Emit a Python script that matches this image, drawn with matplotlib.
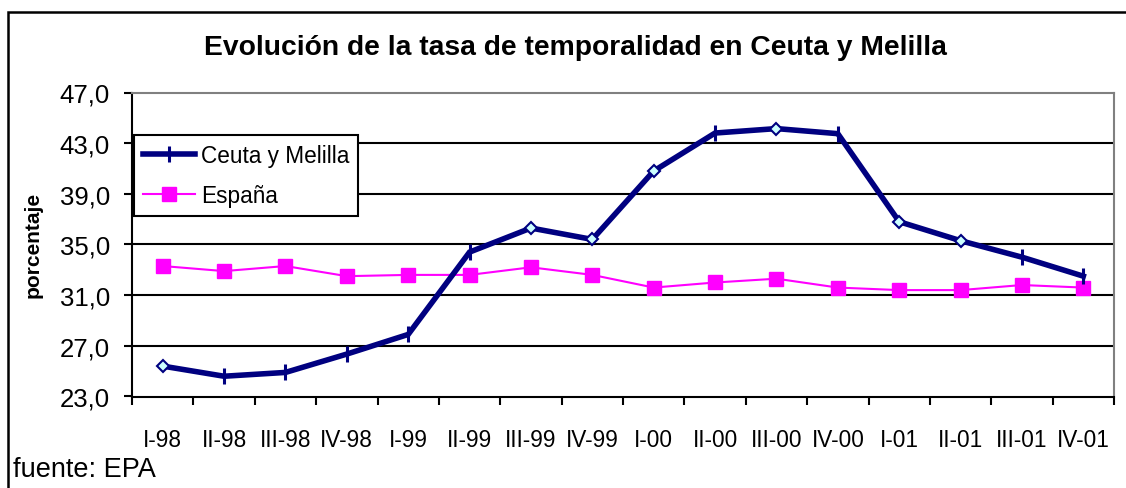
import matplotlib
matplotlib.use("Agg")
import matplotlib.pyplot as plt
from matplotlib.lines import Line2D
from matplotlib.patches import Rectangle
import numpy as np

plt.rcParams['font.family'] = ['Liberation Sans', 'DejaVu Sans']

quarters = ["I-98", "II-98", "III-98", "IV-98", "I-99", "II-99", "III-99", "IV-99",
            "I-00", "II-00", "III-00", "IV-00", "I-01", "II-01", "III-01", "IV-01"]
ceuta_melilla = [25.4, 24.6, 24.9, 26.35, 27.9, 34.4, 36.3, 35.4,
                 40.8, 43.8, 44.15, 43.75, 36.8, 35.3, 34.0, 32.5]
espana = [33.3, 32.9, 33.3, 32.5, 32.6, 32.6, 33.2, 32.6,
          31.6, 32.0, 32.3, 31.6, 31.4, 31.4, 31.8, 31.6]
# points of the Ceuta y Melilla series drawn with a diamond instead of a tick
diamond_points = [0, 6, 7, 8, 10, 12, 13]
y_ticks = [23.0, 27.0, 31.0, 35.0, 39.0, 43.0, 47.0]

W, H = 1126, 489
fig = plt.figure(figsize=(W / 100, H / 100), dpi=100)

def fx(px):
    return px / W

def fy(py):
    return 1 - py / H

left, right, top, bottom = 132, 1114, 93.5, 397.5
ax = fig.add_axes([fx(left), fy(bottom), fx(right - left), (bottom - top) / H])

x = np.arange(len(quarters))
navy = "#000080"
magenta = "#FF00FF"

# grid lines
for v in y_ticks[1:-1]:
    ax.axhline(v, color="black", lw=1.5, zorder=1)

ax.plot(x, espana, color=magenta, lw=1.5, marker="s", markersize=9.5,
        markerfacecolor=magenta, markeredgecolor=magenta, zorder=3)

ax.plot(x, ceuta_melilla, color=navy, lw=4.0, zorder=4, solid_joinstyle="miter")
tick_idx = [i for i in range(len(quarters)) if i not in diamond_points]
ax.plot(x[tick_idx], np.array(ceuta_melilla)[tick_idx], linestyle="none",
        marker="|", markersize=12, markeredgewidth=2.2, color=navy, zorder=5)
ax.plot(x[diamond_points], np.array(ceuta_melilla)[diamond_points], linestyle="none",
        marker="D", markersize=6.5, markerfacecolor="#CCFFFF", markeredgecolor=navy,
        markeredgewidth=1.5, zorder=5)

ax.set_xlim(-0.5, len(quarters) - 0.5)
ax.set_ylim(23, 47)

ax.set_yticks(y_ticks)
ax.set_yticklabels([f"{v:.1f}".replace(".", ",") for v in y_ticks], fontsize=18.5)
ax.tick_params(axis="y", direction="out", length=6, width=1.5, pad=10, color="black")

ax.set_xticks(np.arange(-0.5, len(quarters), 1.0))
ax.set_xticklabels([])
ax.set_xticks(x, minor=True)
ax.set_xticklabels(quarters, minor=True, fontsize=16.3)
ax.tick_params(axis="x", which="major", direction="out", length=6, width=1.5)
ax.tick_params(axis="x", which="minor", length=0, pad=23)

for side in ("left", "bottom"):
    ax.spines[side].set_color("black")
    ax.spines[side].set_linewidth(1.5)
for side in ("top", "right"):
    ax.spines[side].set_color("#808080")
    ax.spines[side].set_linewidth(1.5)

fig.text(fx(33), fy(245), "porcentaje", rotation=90, ha="center", va="center",
         fontsize=15, fontweight="bold")

handles = [
    Line2D([], [], color=navy, lw=4.0, marker="|", markersize=12, markeredgewidth=2.2),
    Line2D([], [], color=magenta, lw=1.5, marker="s", markersize=9.5),
]
leg = fig.legend(handles, ["Ceuta y Melilla", "España"], loc="upper left",
                 bbox_to_anchor=(fx(134), fy(136)), fontsize=16.3, frameon=True,
                 fancybox=False, edgecolor="black", framealpha=1, borderpad=0.4,
                 handlelength=2.3, handletextpad=0.25, labelspacing=0.75,
                 borderaxespad=0)
leg.get_frame().set_linewidth(1.5)
leg.set_zorder(10)

fig.text(fx(575), fy(48), "Evolución de la tasa de temporalidad en Ceuta y Melilla",
         ha="center", va="center", fontsize=20.3, fontweight="bold")
fig.text(fx(13), fy(470), "fuente: EPA", ha="left", va="center", fontsize=19.5)

# outer chart frame
fig.patches.append(Rectangle((fx(8), fy(489 + 20)), fx(1200), (489 + 20 - 13) / H,
                             transform=fig.transFigure, fill=False,
                             edgecolor="black", lw=1.8, zorder=0))

fig.savefig("out.png", dpi=100)
